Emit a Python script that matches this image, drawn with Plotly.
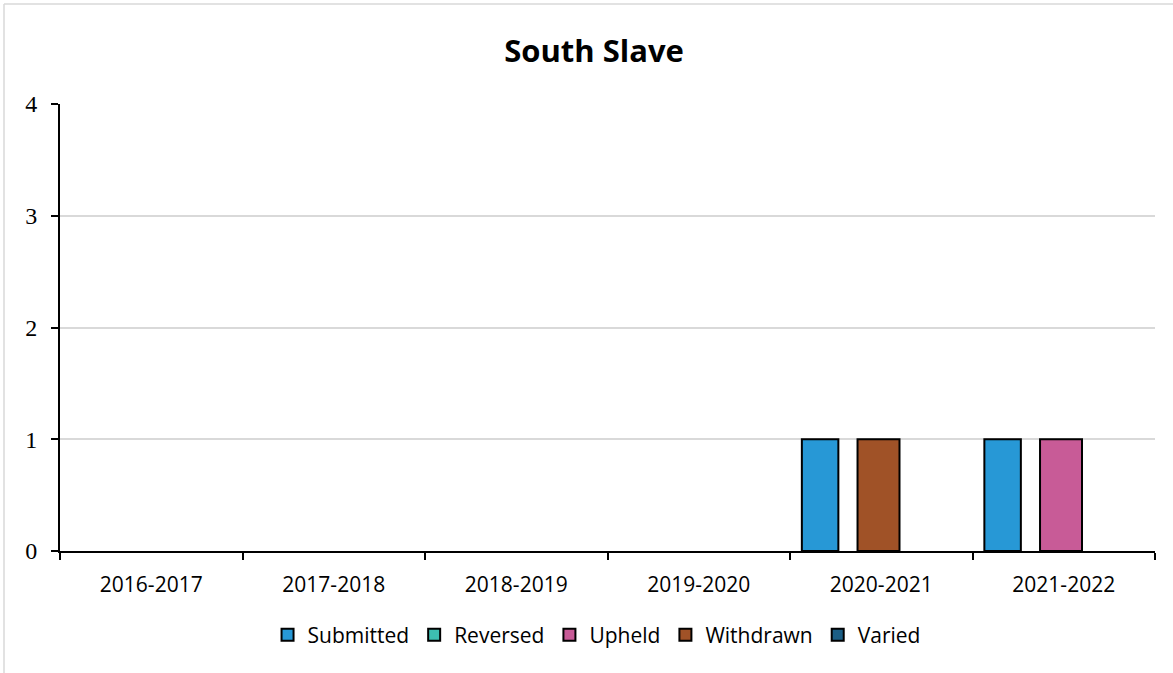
import plotly.graph_objects as go

categories = ["2016-2017", "2017-2018", "2018-2019", "2019-2020", "2020-2021", "2021-2022"]
series_names = ["Submitted", "Reversed", "Upheld", "Withdrawn", "Varied"]
submitted = [None, None, None, None, 1, 1]
reversed_ = [None, None, None, None, None, None]
upheld = [None, None, None, None, None, 1]
withdrawn = [None, None, None, None, 1, None]
varied = [None, None, None, None, None, None]
y_ticks = [0, 1, 2, 3, 4]
title_text = "South Slave"

colors = ["#2798D6", "#3DBFB1", "#C85B97", "#A05227", "#1B5E85"]
values = [submitted, reversed_, upheld, withdrawn, varied]
offsets = [-0.435, -0.13, -0.13, -0.13, -0.13]
widths = [0.2, 0.23, 0.23, 0.23, 0.23]

fig = go.Figure()
for name, vals, col, off, w in zip(series_names, values, colors, offsets, widths):
    fig.add_trace(go.Bar(
        name=name, x=categories, y=vals,
        marker=dict(color=col, line=dict(color="black", width=2)),
        offset=off, width=w,
    ))

L, R, T, B = 60, 18, 104, 122
W, H = 1173, 673
pw, ph = W - L - R, H - T - B

def px_x(px):
    return (px - L) / pw

def px_y(py):
    return (H - B - py) / ph

fig.update_layout(
    width=W, height=H,
    margin=dict(l=L, r=R, t=T, b=B),
    paper_bgcolor="white", plot_bgcolor="white",
    barmode="overlay",
    title=dict(text="<b>" + title_text + "</b>", x=594 / W, xanchor="center",
               y=1 - 51 / H, yanchor="middle",
               font=dict(family="Open Sans", size=31, color="black")),
    legend=dict(orientation="h", x=0.49, xanchor="center",
                y=px_y(635), yanchor="middle",
                font=dict(family="Open Sans", size=21, color="black"),
                itemwidth=30, traceorder="normal"),
    shapes=[
        dict(type="line", xref="paper", yref="paper",
             x0=px_x(4), x1=px_x(4), y0=px_y(4), y1=px_y(673),
             line=dict(color="#D9D9D9", width=1.5)),
        dict(type="line", xref="paper", yref="paper",
             x0=px_x(4), x1=px_x(1173), y0=px_y(4), y1=px_y(4),
             line=dict(color="#D9D9D9", width=1.5)),
    ],
)

fig.update_xaxes(
    type="category", range=[-0.5, 5.5],
    showline=True, linecolor="black", linewidth=2,
    ticks="outside", tickson="boundaries", ticklen=7, tickwidth=1.5, tickcolor="black",
    showgrid=False,
    ticklabelstandoff=14,
    tickfont=dict(family="Open Sans", size=21, color="black"),
)
fig.update_yaxes(
    range=[0, 4], tickvals=y_ticks,
    showline=True, linecolor="black", linewidth=2,
    ticks="outside", ticklen=7, tickwidth=1.5, tickcolor="black",
    showgrid=True, gridcolor="#D9D9D9", gridwidth=1.5,
    zeroline=False,
    ticklabelstandoff=9,
    tickfont=dict(family="Liberation Serif", size=24, color="black"),
)

fig.write_html("out.html")
